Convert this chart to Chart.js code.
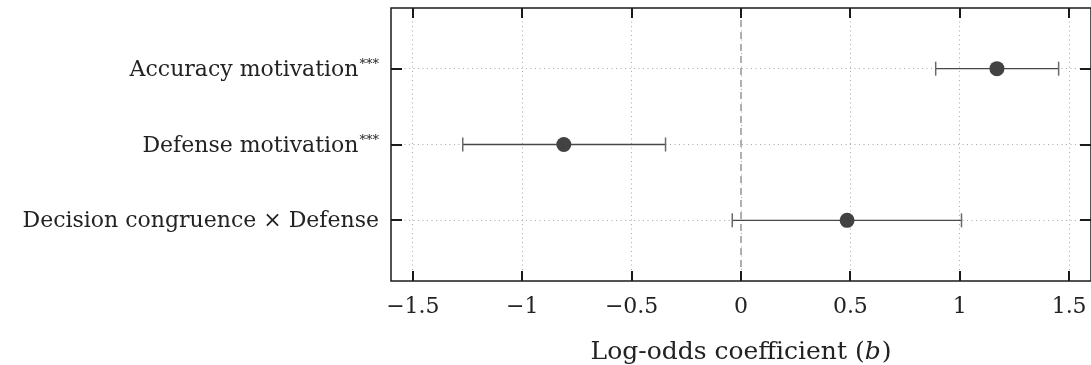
<!DOCTYPE html>
<html>
<head>
<meta charset="utf-8">
<script src="https://cdn.jsdelivr.net/npm/chart.js@4"></script>
<style>
  body { margin: 0; background: #fff; }
  #wrap { width: 1091px; height: 365px; position: relative; }
</style>
</head>
<body>
<div id="wrap"><canvas id="myChart"></canvas></div>
<script>
// coefficient plot data
var labels = ["Accuracy motivation", "Defense motivation", "Decision congruence \u00d7 Defense"];
var stars = ["***", "***", ""];
var estimates = [1.17, -0.81, 0.485];
var lower = [0.89, -1.272, -0.04];
var upper = [1.452, -0.345, 1.008];
var xTicks = [-1.5, -1, -0.5, 0, 0.5, 1, 1.5];
var xTitle = ["Log-odds coefficient (", "b", ")"];

var FONT = "'DejaVu Serif', serif";
var FS = 22;
var ctx = document.getElementById("myChart").getContext("2d");

// one line dataset per error bar, caps drawn as rotated 'line' points
var datasets = [];
labels.forEach(function (lab, i) {
    datasets.push({
        type: 'line',
        data: [{x: lower[i], y: i}, {x: upper[i], y: i}],
        borderColor: '#484848',
        borderWidth: 1.3,
        pointStyle: 'line',
        pointRotation: 90,
        pointRadius: 7,
        pointBorderColor: '#6a6a6a',
        pointBorderWidth: 1.5,
        order: 2
    });
});

// dashed reference line at zero
datasets.push({
    type: 'line',
    data: [{x: 0, y: -0.8}, {x: 0, y: 2.8}],
    borderColor: '#b0b0b0',
    borderWidth: 2,
    borderDash: [7, 5],
    pointRadius: 0,
    order: 3
});

datasets.push({
    type: 'scatter',
    data: estimates.map(function (v, i) { return {x: v, y: i}; }),
    backgroundColor: '#424242',
    borderWidth: 0,
    pointRadius: 7.5,
    order: 1
});

var framePlugin = {
    id: 'frame',
    afterDraw: function (chart) {
        var c = chart.ctx, a = chart.chartArea;
        var xs = chart.scales.x, ys = chart.scales.y;
        c.save();
        c.strokeStyle = '#1a1a1a';
        c.lineWidth = 1.5;
        c.strokeRect(a.left, a.top, a.right - a.left, a.bottom - a.top);
        c.lineWidth = 2;
        xTicks.forEach(function (t) {
            var px = Math.round(xs.getPixelForValue(t));
            c.beginPath();
            c.moveTo(px, a.top); c.lineTo(px, a.top + 10);
            c.moveTo(px, a.bottom); c.lineTo(px, a.bottom - 10);
            c.stroke();
        });
        labels.forEach(function (lab, i) {
            var py = Math.round(ys.getPixelForValue(i));
            c.beginPath();
            c.moveTo(a.left, py); c.lineTo(a.left + 11, py);
            c.moveTo(a.right, py); c.lineTo(a.right - 11, py);
            c.stroke();

            // category labels with superscript stars
            c.fillStyle = '#222';
            c.textBaseline = 'alphabetic';
            c.font = '13px ' + FONT;
            var sw = stars[i] ? c.measureText(stars[i]).width + 1 : 0;
            var right = a.left - 12;
            if (stars[i]) {
                c.textAlign = 'right';
                c.fillText(stars[i], right, py - 1);
            }
            c.font = FS + 'px ' + FONT;
            c.textAlign = 'right';
            c.fillText(lab, right - sw, py + 7);
        });

        // axis title with italic b
        var tf = 25;
        c.font = tf + 'px ' + FONT;
        var w1 = c.measureText(xTitle[0]).width, w3 = c.measureText(xTitle[2]).width;
        c.font = 'italic ' + tf + 'px ' + FONT;
        var w2 = c.measureText(xTitle[1]).width + 1;
        var x0 = (a.left + a.right) / 2 - (w1 + w2 + w3) / 2;
        var by = 359;
        c.textAlign = 'left';
        c.font = tf + 'px ' + FONT;
        c.fillText(xTitle[0], x0, by);
        c.font = 'italic ' + tf + 'px ' + FONT;
        c.fillText(xTitle[1], x0 + w1, by);
        c.font = tf + 'px ' + FONT;
        c.fillText(xTitle[2], x0 + w1 + w2, by);
        c.restore();
    }
};

var myChart = new Chart(ctx, {
    data: { datasets: datasets },
    options: {
        responsive: true,
        maintainAspectRatio: false,
        animation: false,
        layout: { autoPadding: false, padding: { top: 8, right: -1.5, left: 0, bottom: 0 } },
        plugins: { legend: { display: false }, tooltip: { enabled: false } },
        scales: {
            x: {
                type: 'linear',
                min: -1.6,
                max: 1.6,
                afterBuildTicks: function (scale) {
                    scale.ticks = xTicks.map(function (v) { return {value: v}; });
                },
                afterFit: function (scale) {
                    scale.height = 84;
                    scale.paddingLeft = 0;
                    scale.paddingRight = 0;
                },
                grid: { color: '#a8a8a8', lineWidth: 1, drawTicks: false },
                border: { display: false, dash: [1, 3.5] },
                ticks: {
                    padding: 13,
                    color: '#222',
                    font: { family: FONT, size: FS },
                    callback: function (v) { return String(v).replace('-', '\u2212'); }
                }
            },
            y: {
                type: 'linear',
                reverse: true,
                min: -0.8,
                max: 2.8,
                afterBuildTicks: function (scale) {
                    scale.ticks = labels.map(function (l, i) { return {value: i}; });
                },
                afterFit: function (scale) { scale.width = 391; },
                grid: { color: '#a8a8a8', lineWidth: 1, drawTicks: false },
                border: { display: false, dash: [1, 3.5] },
                ticks: { display: false }
            }
        }
    },
    plugins: [framePlugin]
});
</script>
</body>
</html>
